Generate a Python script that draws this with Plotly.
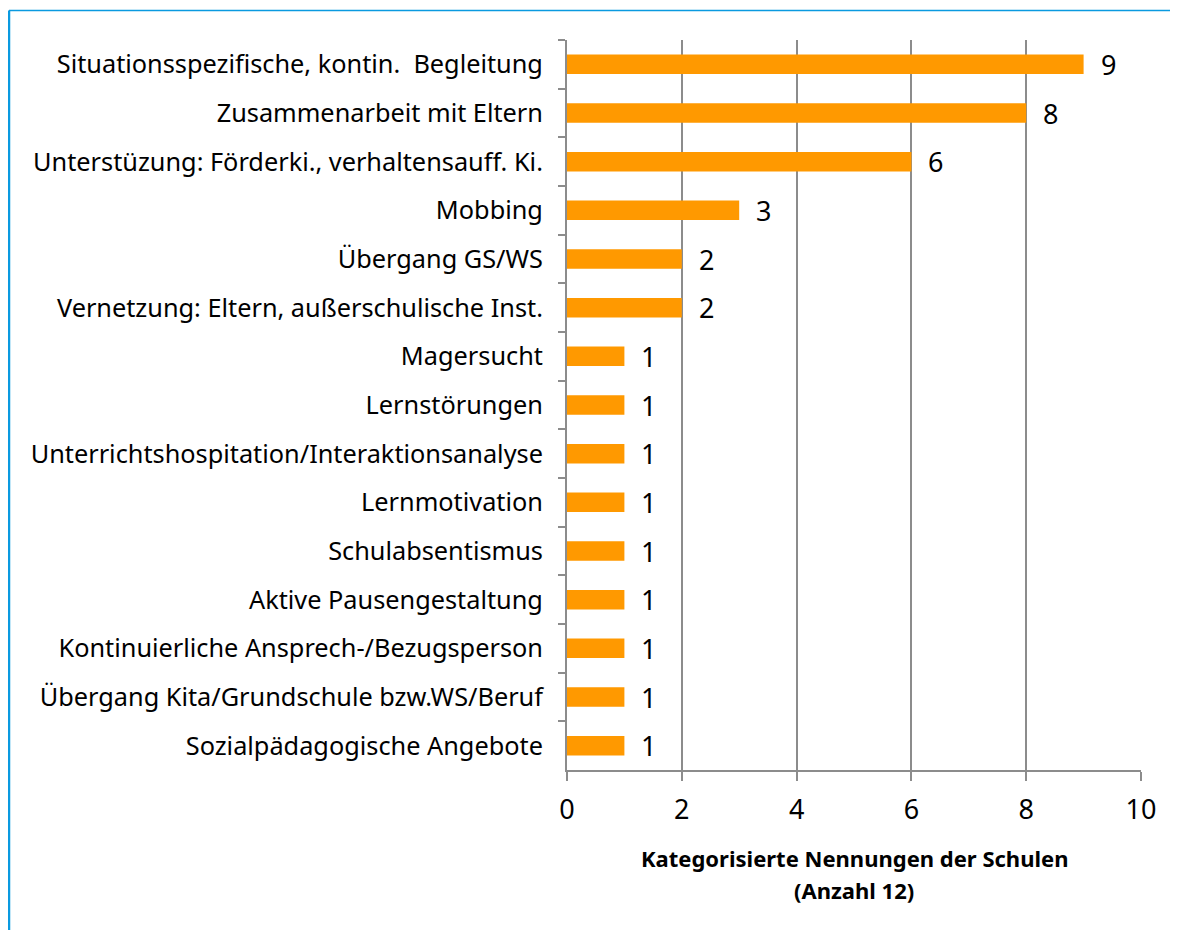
import plotly.graph_objects as go

categories = [
    "Situationsspezifische, kontin.  Begleitung",
    "Zusammenarbeit mit Eltern",
    "Unterstüzung: Förderki., verhaltensauff. Ki.",
    "Mobbing",
    "Übergang GS/WS",
    "Vernetzung: Eltern, außerschulische Inst.",
    "Magersucht",
    "Lernstörungen",
    "Unterrichtshospitation/Interaktionsanalyse",
    "Lernmotivation",
    "Schulabsentismus",
    "Aktive Pausengestaltung",
    "Kontinuierliche Ansprech-/Bezugsperson",
    "Übergang Kita/Grundschule bzw.WS/Beruf",
    "Sozialpädagogische Angebote",
]
values = [9, 8, 6, 3, 2, 2, 1, 1, 1, 1, 1, 1, 1, 1, 1]
x_ticks = [0, 2, 4, 6, 8, 10]
title_lines = ["Kategorisierte Nennungen der Schulen", "(Anzahl 12)"]

FONT = "Noto Sans"
GRID = "#8c8c8c"
BORDER = "#0a9ae0"

# page has an 8px body margin; figure coordinates = page coordinates - 8
W, H = 1170, 922
L, T = 559, 32
R = W - 1133
B = H - 762
pw, ph = W - L - R, H - T - B

def px_x(px):
    return (px - L) / pw

def px_y(py):
    return (H - B - py) / ph

fig = go.Figure(go.Bar(
    x=values, y=categories, orientation="h",
    marker=dict(color="#FF9900", line=dict(width=0)),
    width=0.4,
    hoverinfo="x+y",
))

for c, v in zip(categories, values):
    fig.add_annotation(x=v, y=c, text=str(v), showarrow=False,
                       xanchor="left", xshift=15,
                       font=dict(family=FONT, size=27, color="#000000"))

for i, line in enumerate(title_lines):
    fig.add_annotation(xref="paper", yref="paper", x=0.5, y=px_y(850 + 32 * i),
                       text="<b>" + line + "</b>", showarrow=False,
                       xanchor="center", yanchor="middle",
                       font=dict(family=FONT, size=22, color="#000000"))

fig.add_shape(type="line", xref="paper", yref="paper",
              x0=px_x(1), x1=px_x(W + 5), y0=px_y(2.5), y1=px_y(2.5),
              line=dict(color=BORDER, width=1.5), layer="above")
fig.add_shape(type="line", xref="paper", yref="paper",
              x0=px_x(1), x1=px_x(1), y0=px_y(2.5), y1=px_y(H + 5),
              line=dict(color=BORDER, width=2.5), layer="above")

fig.update_layout(
    width=W, height=H,
    margin=dict(l=L, r=R, t=T, b=B, autoexpand=False),
    paper_bgcolor="white", plot_bgcolor="white",
    showlegend=False,
    font=dict(family=FONT, size=25.3, color="#000000"),
    xaxis=dict(
        range=[0, 10], tickvals=x_ticks, ticktext=[str(t) for t in x_ticks],
        showgrid=True, gridcolor=GRID, gridwidth=2,
        showline=True, linecolor=GRID, linewidth=2,
        ticks="outside", ticklen=9, tickcolor=GRID, tickwidth=2,
        tickfont=dict(family=FONT, size=27),
        ticklabelstandoff=6,
        zeroline=False,
    ),
    yaxis=dict(
        type="category", autorange="reversed",
        showline=True, linecolor=GRID, linewidth=2,
        ticks="outside", ticklen=7, tickcolor=GRID, tickwidth=2,
        tickson="boundaries",
        showgrid=False,
        tickfont=dict(family=FONT, size=25.3),
        ticklabelstandoff=17,
    ),
)

fig.write_html("out.html")
